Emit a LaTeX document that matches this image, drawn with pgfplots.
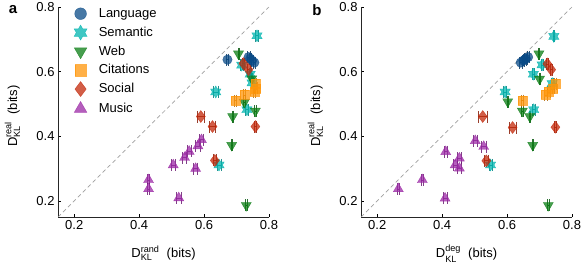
\documentclass[border=0pt]{standalone}
\usepackage{fontspec}
\setmainfont{Liberation Sans}
\usepackage{amsmath}
\usepackage{pgfplots}
\pgfplotsset{compat=1.18}

\definecolor{cLang}{RGB}{10,75,135}
\definecolor{cSem}{RGB}{0,180,175}
\definecolor{cWeb}{RGB}{10,125,20}
\definecolor{cCit}{RGB}{255,150,10}
\definecolor{cSoc}{RGB}{195,40,10}
\definecolor{cMus}{RGB}{155,40,165}

\pgfdeclareplotmark{hexagram}{%
  \pgfpathmoveto{\pgfqpointpolar{90}{\pgfplotmarksize}}%
  \pgfpathlineto{\pgfqpointpolar{120}{0.577\pgfplotmarksize}}%
  \pgfpathlineto{\pgfqpointpolar{150}{\pgfplotmarksize}}%
  \pgfpathlineto{\pgfqpointpolar{180}{0.577\pgfplotmarksize}}%
  \pgfpathlineto{\pgfqpointpolar{210}{\pgfplotmarksize}}%
  \pgfpathlineto{\pgfqpointpolar{240}{0.577\pgfplotmarksize}}%
  \pgfpathlineto{\pgfqpointpolar{270}{\pgfplotmarksize}}%
  \pgfpathlineto{\pgfqpointpolar{300}{0.577\pgfplotmarksize}}%
  \pgfpathlineto{\pgfqpointpolar{330}{\pgfplotmarksize}}%
  \pgfpathlineto{\pgfqpointpolar{0}{0.577\pgfplotmarksize}}%
  \pgfpathlineto{\pgfqpointpolar{30}{\pgfplotmarksize}}%
  \pgfpathlineto{\pgfqpointpolar{60}{0.577\pgfplotmarksize}}%
  \pgfpathclose
  \pgfusepathqfillstroke}

\newcommand\fs{\fontsize{13bp}{15bp}\selectfont}

\pgfplotsset{
  panel/.style={
    scale only axis, width=211bp, height=210bp,
    xmin=0.15, xmax=0.8, ymin=0.15, ymax=0.8,
    axis lines*=left,
    xtick={0.2,0.4,0.6,0.8}, ytick={0.2,0.4,0.6,0.8},
    tick align=inside, major tick length=3bp,
    tick style={black, line width=0.6bp},
    axis line style={black!85, line width=0.8bp},
    /pgf/number format/assume math mode=true,
    /pgf/number format/fixed, /pgf/number format/fixed zerofill,
    /pgf/number format/precision=1,
    ticklabel style={font=\fs},
    label style={font=\fs},
    ylabel style={at={(axis description cs:-0.163,0.48)}, anchor=south},
    xlabel style={at={(axis description cs:0.5,-0.195)}, anchor=base},
    clip=false,
  },
  ser/.style n args={4}{
    only marks, mark=#1, color=#2,
    mark options={fill=#2, draw=#2, fill opacity=0.75, draw opacity=0.75, mark size=#3, rotate=#4},
    error bars/.cd, x dir=both, x explicit,
    error bar style={#2!70!black, line width=0.6bp, opacity=0.85},
    error mark options={rotate=90, mark size=6bp, line width=0.6bp},
    /pgfplots/.cd,
  },
}

\begin{document}
\begin{tikzpicture}
\path[use as bounding box] (0,0) rectangle (581bp,265bp);

% ---------------- panel a ----------------
\begin{axis}[panel, at={(58bp,48bp)},
  xlabel={$\text{D}^{\text{rand}}_{\text{KL}}$\ \ (bits)},
  ylabel={$\text{D}^{\text{real}}_{\text{KL}}$\ \ (bits)},
  legend style={at={(axis description cs:0.072,1.0)}, anchor=north west,
    draw=none, fill=none, inner sep=0pt, row sep=4.9bp,
    nodes={font=\fs, text height=10bp, text depth=3bp, inner ysep=0pt, inner xsep=4bp}},
  legend cell align=left,
  legend image code/.code={%
    \path (-7bp,0bp) (14bp,0bp);
    \draw[#1, every mark/.append style={scale=1.25}] plot coordinates {(0bp,0bp)};},
]
\addplot[gray!75, dash pattern=on 4bp off 3bp, line width=0.7bp, forget plot]
  coordinates {(0.15,0.15) (0.8,0.8)};
\addplot[ser={*}{cLang}{4.7bp}{0}] table[x=x,y=y,x error=ex] {
x y ex
0.672 0.637 0.004
0.737 0.645 0.004
0.742 0.640 0.004
0.748 0.634 0.004
0.755 0.628 0.004
};
\addlegendentry{Language}
\addplot[ser={hexagram}{cSem}{6bp}{0}] table[x=x,y=y,x error=ex] {
x y ex
0.763 0.711 0.004
0.716 0.620 0.004
0.742 0.592 0.004
0.748 0.565 0.004
0.636 0.537 0.008
0.732 0.482 0.004
0.646 0.311 0.006
};
\addlegendentry{Semantic}
\addplot[ser={triangle*}{cWeb}{5.8bp}{180}] table[x=x,y=y,x error=ex] {
x y ex
0.706 0.655 0.002
0.747 0.578 0.002
0.724 0.505 0.002
0.758 0.478 0.002
0.688 0.461 0.002
0.685 0.372 0.002
0.730 0.186 0.002
};
\addlegendentry{Web}
\addplot[ser={square*}{cCit}{4.5bp}{0}] table[x=x,y=y,x error=ex] {
x y ex
0.758 0.563 0.004
0.760 0.548 0.004
0.755 0.537 0.004
0.724 0.528 0.004
0.696 0.510 0.004
};
\addlegendentry{Citations}
\addplot[ser={diamond*}{cSoc}{6bp}{0}] table[x=x,y=y,x error=ex] {
x y ex
0.721 0.625 0.004
0.737 0.606 0.004
0.590 0.461 0.012
0.626 0.430 0.010
0.758 0.430 0.004
0.633 0.325 0.006
};
\addlegendentry{Social}
\addplot[ser={triangle*}{cMus}{5.8bp}{0}] table[x=x,y=y,x error=ex] {
x y ex
0.592 0.389 0.007
0.581 0.370 0.007
0.554 0.353 0.007
0.540 0.334 0.006
0.505 0.311 0.007
0.574 0.300 0.006
0.429 0.265 0.003
0.429 0.237 0.003
0.522 0.209 0.007
};
\addlegendentry{Music}
\node[font=\bfseries\fontsize{15bp}{15bp}\selectfont] at (axis description cs:-0.213,0.986) {a};
\end{axis}

% ---------------- panel b ----------------
\begin{axis}[panel, at={(361bp,48bp)},
  xlabel={$\text{D}^{\text{deg}}_{\text{KL}}$\ \ (bits)},
  ylabel={$\text{D}^{\text{real}}_{\text{KL}}$\ \ (bits)},
]
\addplot[gray!75, dash pattern=on 4bp off 3bp, line width=0.7bp, forget plot]
  coordinates {(0.15,0.15) (0.8,0.8)};
\addplot[ser={*}{cLang}{4.7bp}{0}] table[x=x,y=y,x error=ex] {
x y ex
0.642 0.628 0.004
0.650 0.634 0.004
0.654 0.637 0.004
0.658 0.640 0.004
0.665 0.645 0.004
};
\addplot[ser={hexagram}{cSem}{6bp}{0}] table[x=x,y=y,x error=ex] {
x y ex
0.744 0.709 0.003
0.708 0.621 0.004
0.681 0.592 0.004
0.739 0.563 0.004
0.594 0.537 0.005
0.682 0.482 0.004
0.549 0.311 0.004
};
\addplot[ser={triangle*}{cWeb}{5.8bp}{180}] table[x=x,y=y,x error=ex] {
x y ex
0.698 0.655 0.002
0.700 0.577 0.002
0.602 0.507 0.002
0.647 0.478 0.002
0.670 0.461 0.002
0.679 0.372 0.002
0.727 0.186 0.002
};
\addplot[ser={square*}{cCit}{4.5bp}{0}] table[x=x,y=y,x error=ex] {
x y ex
0.749 0.563 0.004
0.742 0.548 0.004
0.729 0.537 0.004
0.719 0.528 0.004
0.647 0.510 0.004
};
\addplot[ser={diamond*}{cSoc}{6bp}{0}] table[x=x,y=y,x error=ex] {
x y ex
0.724 0.624 0.004
0.736 0.606 0.004
0.525 0.461 0.014
0.617 0.427 0.010
0.749 0.428 0.004
0.536 0.324 0.006
};
\addplot[ser={triangle*}{cMus}{5.8bp}{0}] table[x=x,y=y,x error=ex] {
x y ex
0.502 0.386 0.007
0.528 0.368 0.007
0.411 0.352 0.005
0.453 0.332 0.006
0.440 0.311 0.006
0.453 0.301 0.006
0.339 0.265 0.003
0.265 0.237 0.003
0.409 0.208 0.006
};
\node[font=\bfseries\fontsize{15bp}{15bp}\selectfont] at (axis description cs:-0.209,0.986) {b};
\end{axis}
\end{tikzpicture}
\end{document}
